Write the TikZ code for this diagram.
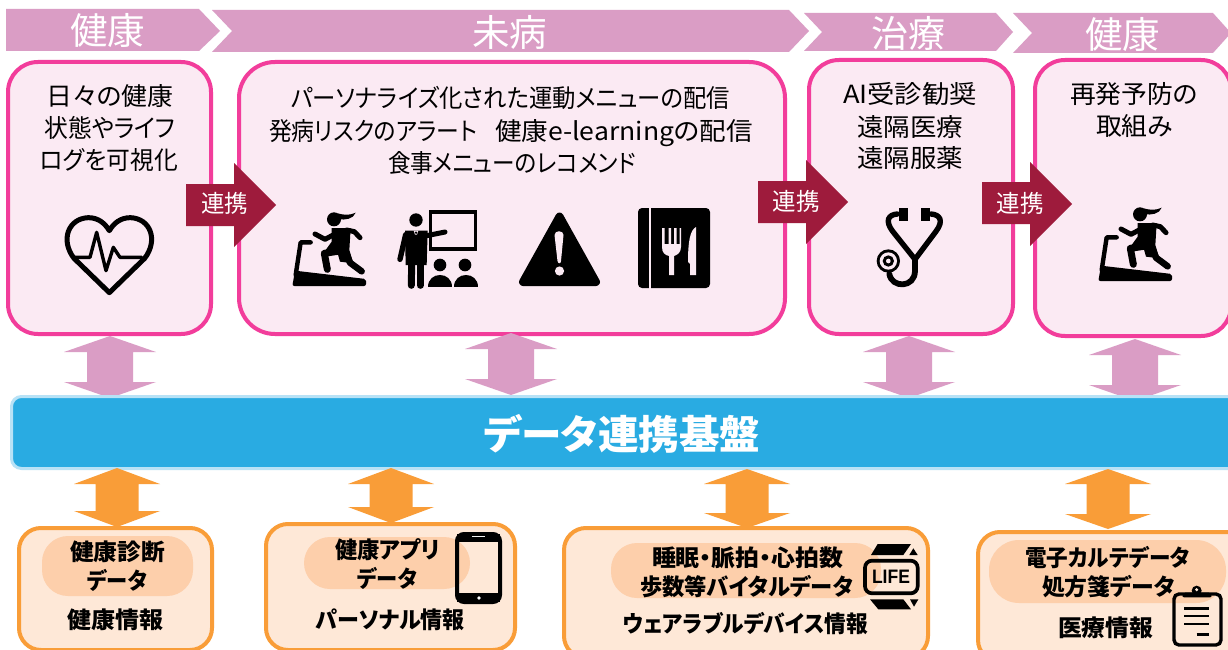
\documentclass[tikz,border=0pt]{standalone}
\usepackage{graphicx}
\usepackage{fontspec}
\setmainfont{Noto Sans CJK JP}[RawFeature=+palt]
\newfontfamily\lifefont{Liberation Sans}
\newsavebox{\fitbox}
\newcommand{\fitx}[2]{\sbox{\fitbox}{#2}\pgfmathsetmacro{\fitr}{#1/\the\wd\fitbox}\scalebox{\fitr}[1]{\usebox{\fitbox}}}
\newcommand{\dblarrow}[7]{% style, cx, top, bottom, head half, shaft half, head length
  \begingroup
  \pgfmathsetmacro{\dal}{#2-#5}\pgfmathsetmacro{\dar}{#2+#5}\pgfmathsetmacro{\dsl}{#2-#6}\pgfmathsetmacro{\dsr}{#2+#6}
  \pgfmathsetmacro{\dht}{#3+#7}\pgfmathsetmacro{\dhb}{#4-#7}
  \path[#1] (#2,#3) -- (\dar,\dht) -- (\dsr,\dht) -- (\dsr,\dhb) -- (\dar,\dhb) -- (#2,#4) -- (\dal,\dhb) -- (\dsl,\dhb) -- (\dsl,\dht) -- (\dal,\dht) -- cycle;
  \endgroup}
\definecolor{chev}{HTML}{DA9DC5}
\definecolor{pinkline}{HTML}{F23D9B}
\definecolor{pinkfill}{HTML}{FBEAF3}
\definecolor{linkred}{HTML}{9E1B3C}
\definecolor{barblue}{HTML}{29ABE2}
\definecolor{barline}{HTML}{B8E2F6}
\definecolor{orangeline}{HTML}{F99D38}
\definecolor{orangefill}{HTML}{FEE8D7}
\definecolor{pillfill}{HTML}{FDCFAB}
\tikzset{
  chevron/.style={fill=chev,draw=none},
  pinkbox/.style={draw=pinkline,fill=pinkfill,line width=4pt,rounded corners=30pt,inner sep=0pt},
  orangebox/.style={draw=orangeline,fill=orangefill,line width=4pt,rounded corners=22pt,inner sep=0pt},
  pill/.style={fill=pillfill,draw=none,inner sep=0pt,rounded corners=26pt},
  linkarrow/.style={fill=linkred,draw=none},
  pinkdbl/.style={fill=chev,draw=none},
  orangedbl/.style={fill=orangeline,draw=none},
  hdr/.style={inner sep=0pt,text=white,font=\fontsize{37}{40}\selectfont,text height=32.6pt,text depth=4.4pt},
  lbl/.style={inner sep=0pt,text=black,font=\fontsize{25}{28}\selectfont,text height=22pt,text depth=3pt},
  lnk/.style={inner sep=0pt,text=white,font=\fontsize{24}{26}\selectfont,text height=21.1pt,text depth=2.9pt},
  blbl/.style={inner sep=0pt,text=black,font=\fontsize{23}{26}\selectfont\bfseries,text height=20.2pt,text depth=2.8pt},
  ico/.style={fill=black,draw=none},
  icoline/.style={draw=black,fill=none,line cap=round,line join=round},
}
\newcommand{\runnericon}{%
  \path[ico,rounded corners=2pt] (22,258) -- (30,212) -- (243,237) -- (243,258) -- cycle;
  \draw[icoline,line width=4.4pt] (32,225) -- (47,127) -- (77,127);
  \fill[black] (147,58) circle (21);
  \path[ico] (158,40) .. controls (180,46) and (195,46) .. (212,38) .. controls (205,58) and (180,60) .. (160,58) -- cycle;
  \path[ico] (140,84) -- (197,84) -- (193,150) -- (205,190) -- (165,185) -- (158,160) -- (125,165) -- (122,150) -- (140,125) -- cycle;
  \draw[icoline,line width=5pt] (150,102) -- (120,118) -- (90,102);
  \draw[icoline,line width=5pt] (185,90) -- (208,95) -- (225,113);
  \draw[icoline,line width=7pt] (170,152) -- (118,160) -- (127,208);
  \draw[icoline,line width=6.5pt] (178,145) -- (195,188) -- (230,214);
}
\begin{document}
\begin{tikzpicture}[x=1pt,y=-1pt]
\useasboundingbox (0,0) rectangle (1228,650);
\fill[white] (0,0) rectangle (1228,650);
\clip (0,0) rectangle (1228,650);
% headers
\path[chevron] (6,9) -- (199,9) -- (220,31) -- (199,51) -- (6,51) -- cycle;
\path[chevron] (212,10) -- (789,10) -- (809,31) -- (789,52) -- (212,52) -- (232,31) -- cycle;
\path[chevron] (804,13) -- (996,13) -- (1013,32) -- (996,51) -- (804,51) -- (822,32) -- cycle;
\path[chevron] (1013,13) -- (1213,13) -- (1231,33) -- (1213,53) -- (1013,53) -- (1032,33) -- cycle;
\node[hdr,at={(107.5,30)}] (h1) {\fitx{75}{健康}};
\node[hdr,at={(509.5,32)}] (h2) {\fitx{75}{未病}};
\node[hdr,at={(908,33)}] (h3) {\fitx{74}{治療}};
\node[hdr,at={(1122.5,34)}] (h4) {\fitx{75}{健康}};
% pink boxes
\node[pinkbox,minimum width=203pt,minimum height=272pt,at={(109.5,198)}] (box1) {};
\node[pinkbox,rounded corners=36pt,minimum width=546pt,minimum height=272pt,at={(512,198)}] (box2) {};
\node[pinkbox,minimum width=204pt,minimum height=274pt,at={(911,197)}] (box3) {};
\node[pinkbox,minimum width=196pt,minimum height=276pt,at={(1133,198)}] (box4) {};
\node[lbl,at={(110,96)}] (t1a) {\fitx{127}{日々の健康}};
\node[lbl,at={(110,128)}] (t1b) {\fitx{131}{状態やライフ}};
\node[lbl,at={(109,160)}] (t1c) {\fitx{138}{ログを可視化}};
\node[lbl,at={(510.5,98)}] (t2a) {\fitx{439}{パーソナライズ化された運動メニューの配信}};
\node[lbl,at={(373,131)}] (t2b) {\fitx{208}{発病リスクのアラート}};
\node[lbl,at={(624,131)}] (t2d) {\fitx{258}{健康e-learningの配信}};
\node[lbl,at={(512,163)}] (t2c) {\fitx{248}{食事メニューのレコメンド}};
\node[lbl,at={(910,94)}] (t3a) {\fitx{134}{AI受診勧奨}};
\node[lbl,at={(910,127)}] (t3b) {\fitx{106}{遠隔医療}};
\node[lbl,at={(910,158)}] (t3c) {\fitx{106}{遠隔服薬}};
\node[lbl,at={(1134,94)}] (t4a) {\fitx{128}{再発予防の}};
\node[lbl,at={(1134.5,126)}] (t4b) {\fitx{77}{取組み}};
% heart
\begin{scope}[scale=1/3]
\draw[icoline,line width=5pt] (328,878) -- (222,775) .. controls (180,720) and (205,655) .. (265,653) .. controls (295,653) and (315,670) .. (328,692) .. controls (341,670) and (361,653) .. (391,653) .. controls (451,655) and (476,720) .. (434,775) -- cycle;
\draw[icoline,line width=3.4pt] (222,772) -- (270,772) -- (290,697) -- (318,812) -- (340,742) -- (360,772) -- (425,772);
\end{scope}
% treadmill and presenter
\begin{scope}[shift={(285,200)},scale=1/3]
\runnericon
\fill[black] (393,60) circle (20);
\path[ico] (360,92) -- (428,92) -- (425,195) -- (362,195) -- cycle;
\draw[icoline,line width=5.4pt] (362,104) -- (345,178);
\draw[icoline,line width=5pt] (420,108) -- (480,96);
\draw[icoline,line width=7pt] (380,190) -- (379,256);
\draw[icoline,line width=7pt] (406,190) -- (406,256);
\draw[draw=black,line width=3.6pt,miter limit=2] (437,36) -- (571,36) -- (571,147) -- (437,147) -- cycle;
\fill[pinkfill] (386,92) -- (400,92) -- (396,104) -- (390,104) -- cycle;
\fill[black] (393,98) circle (4);
\fill[black] (465,195) circle (19);
\fill[black] (540,195) circle (19);
\path[ico] (429,262) .. controls (429,212) and (501,212) .. (501,262) -- cycle;
\path[ico] (507,262) .. controls (507,212) and (579,212) .. (579,262) -- cycle;
\end{scope}
% warning triangle
\path[ico,draw=black,line width=8pt,line join=round] (559.5,216.5) -- (596,282) -- (523,282) -- cycle;
\path[fill=pinkfill] (554.5,235) .. controls (554.5,230) and (563.5,230) .. (563.5,235) -- (561,261) .. controls (561,264) and (558,264) .. (557.5,261) -- cycle;
\fill[pinkfill] (559.5,271) circle (4.6);
% menu
\path[ico,rounded corners=4pt] (638,208) rectangle (710,288);
\draw[pinkfill,line width=2.2pt] (650,206) -- (650,290);
\path[fill=pinkfill] (662,228) -- (664.5,228) -- (664.5,244) -- (668.5,244) -- (668.5,228) -- (671,228) -- (671,244) -- (674,244) -- (674,228) -- (676.5,228) -- (676.5,244) -- (679.5,244) -- (679.5,228) -- (681,228) -- (681,247) .. controls (681,253) and (677,255) .. (674,256) -- (674,275) -- (669,275) -- (669,256) .. controls (665,255) and (662,253) .. (662,247) -- cycle;
\path[fill=pinkfill] (696,227) .. controls (690,230) and (688,242) .. (688,262) -- (690,264) -- (690,275) -- (696,275) -- cycle;
% stethoscope
\begin{scope}[shift={(860,200)},scale=1/3]
\path[ico] (116,25) rectangle (143,62);
\path[ico] (182,25) rectangle (209,62);
\draw[icoline,line width=5.4pt] (112,42) .. controls (85,44) and (74,62) .. (98,94) -- (165,178) -- (228,94) .. controls (252,62) and (240,44) .. (213,42);
\draw[icoline,line width=5.8pt] (165,175) -- (165,212) .. controls (165,265) and (95,265) .. (88,222);
\fill[black] (85,183) circle (35);
\fill[pinkfill] (85,183) circle (26);
\fill[black] (85,183) circle (17);
\fill[pinkfill] (85,183) circle (7);
\end{scope}
% second treadmill
\begin{scope}[shift={(1091,195)},scale=1/3]
\runnericon
\end{scope}
% link arrows
\path[linkarrow] (186,184) -- (234,184) -- (234,163) -- (276,205) -- (234,247) -- (234,226) -- (186,226) -- cycle;
\path[linkarrow] (758,181) -- (806,181) -- (806,160) -- (848,202) -- (806,244) -- (806,223) -- (758,223) -- cycle;
\path[linkarrow] (982,182) -- (1030,182) -- (1030,162) -- (1072,204) -- (1030,246) -- (1030,224) -- (982,224) -- cycle;
\node[lnk,at={(224.5,203)}] (l1) {\fitx{47}{連携}};
\node[lnk,at={(796,201)}] (l2) {\fitx{47}{連携}};
\node[lnk,at={(1020,203)}] (l3) {\fitx{47}{連携}};
% pink double arrows
\dblarrow{pinkdbl}{110}{336}{398}{46}{23}{16}
\dblarrow{pinkdbl}{511}{333}{395}{46}{23}{16}
\dblarrow{pinkdbl}{909}{336}{398}{46}{23}{16}
\dblarrow{pinkdbl}{1135}{339}{401}{46}{23}{16}
% data platform bar
\node[draw=barline,fill=barblue,line width=3pt,rounded corners=10pt,inner sep=0pt,minimum width=1240pt,minimum height=72pt,at={(631.5,432.5)}] (bar) {};
\node[inner sep=0pt,text=white,font=\fontsize{40}{44}\selectfont\bfseries,text height=35.2pt,text depth=4.8pt,at={(622,434)}] (bartext) {\fitx{277}{データ連携基盤}};
% orange boxes
\node[orangebox,minimum width=193pt,minimum height=122pt,at={(115.5,589)}] (d1) {};
\node[orangebox,minimum width=249pt,minimum height=126pt,at={(390.5,587)}] (d2) {};
\node[orangebox,minimum width=364pt,minimum height=130pt,at={(746,593)}] (d3) {};
\node[orangebox,minimum width=270pt,minimum height=130pt,at={(1113,597)}] (d4) {};
% orange double arrows
\dblarrow{orangedbl}{117}{468}{527}{43}{21.5}{16}
\dblarrow{orangedbl}{391}{468}{523}{43}{21.5}{16}
\dblarrow{orangedbl}{747}{469}{528}{43}{21.5}{15}
\dblarrow{orangedbl}{1108}{469}{529}{43}{21.5}{15}
% pills
\path[pill] (42,536) rectangle (193,596);
\path[pill] (304,537) rectangle (470,589);
\path[pill] (611,543) rectangle (881,598);
\path[pill,rounded corners=30pt] (989,540) rectangle (1226,603);
% phone
\draw[black,line width=4pt,rounded corners=7pt] (457,534) rectangle (500,602);
\fill[black] (457,534) rectangle (500,542);
\fill[black] (457,593) rectangle (500,602);
\draw[black!5,line width=1pt] (472,536.5) -- (485,536.5);
\fill[white] (479,598) circle (1.8);
% watch
\begin{scope}[shift={(855,540)},scale=1/3]
\draw[black,line width=3.7pt,rounded corners=7pt] (30,62) rectangle (188,160);
\path[ico] (48,45) -- (68,12) -- (168,12) -- (145,45) -- cycle;
\path[ico] (175,25) -- (163,45) -- (188,45) -- cycle;
\path[ico] (45,178) -- (145,178) -- (168,208) -- (70,208) -- cycle;
\path[ico] (165,178) -- (190,178) -- (177,200) -- cycle;
\node[inner sep=0pt,font=\lifefont\fontsize{19.5}{22}\selectfont\bfseries,at={(108,111)}] (life) {\fitx{38}{LIFE}};
\end{scope}
% clipboard
\begin{scope}[shift={(1160,580)},scale=1/3]
\draw[black,line width=3.4pt,rounded corners=5pt] (42,42) rectangle (183,195);
\path[ico,rounded corners=2pt] (66,52) -- (70,38) -- (152,38) -- (156,52) -- cycle;
\fill[black] (110,32) circle (15);
\fill[orangefill] (110,29) circle (5);
\draw[black,line width=2.6pt] (72,85) -- (148,85);
\draw[black,line width=2.6pt] (72,108) -- (148,108);
\draw[black,line width=2.6pt] (72,132) -- (148,132);
\draw[black,line width=2.6pt] (110,163) -- (148,163);
\end{scope}
% data labels
\node[blbl,at={(117.5,552)}] (a1) {\fitx{95}{健康診断}};
\node[blbl,at={(117,581)}] (a2) {\fitx{60}{データ}};
\node[blbl,at={(115,620)}] (a3) {\fitx{96}{健康情報}};
\node[blbl,at={(387.5,550)}] (b1) {\fitx{105}{健康アプリ}};
\node[blbl,at={(387,579)}] (b2) {\fitx{60}{データ}};
\node[blbl,at={(390.5,620)}] (b3) {\fitx{149}{パーソナル情報}};
\node[blbl,at={(747.5,558)}] (c1) {\fitx{191}{睡眠・脈拍・心拍数}};
\node[blbl,at={(746.5,587)}] (c2) {\fitx{213}{歩数等バイタルデータ}};
\node[blbl,at={(745.5,624)}] (c3) {\fitx{245}{ウェアラブルデバイス情報}};
\node[blbl,at={(1107.5,558)}] (e1) {\fitx{165}{電子カルテデータ}};
\node[blbl,at={(1108.5,587)}] (e2) {\fitx{133}{処方箋データ}};
\node[blbl,at={(1105.5,628)}] (e3) {\fitx{95}{医療情報}};
\end{tikzpicture}
\end{document}
